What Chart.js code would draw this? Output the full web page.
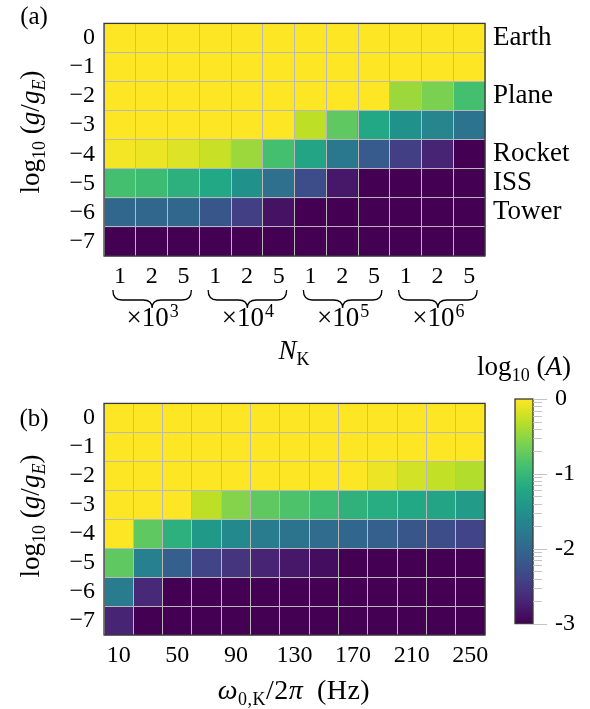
<!DOCTYPE html>
<html>
<head>
<meta charset="utf-8">
<script src="https://cdn.jsdelivr.net/npm/chart.js@4.4.1/dist/chart.umd.min.js"></script>
<style>
  body { margin: 0; background: #fff; }
  #page { position: relative; width: 590px; height: 709px; font-family: 'Liberation Serif', serif; font-size: 27px; color: #000; overflow: hidden; }
  canvas { position: absolute; }
  .lbl { position: absolute; white-space: nowrap; transform: translate(-50%, -50%); line-height: 1; }
  .rot { transform: translate(-50%, -50%) rotate(-90deg); }
  .panel { font-size: 25px; }
  .wide { font-size: 28px; letter-spacing: 0.5px; word-spacing: 6px; }
  sub { font-size: 18px; vertical-align: -6px; line-height: 0; }
</style>
</head>
<body>
<div id="page">
  <canvas id="mapA" width="590" height="380" style="left:0;top:0"></canvas>
  <canvas id="mapB" width="590" height="329" style="left:0;top:380px"></canvas>
  <canvas id="cbar" width="100" height="320" style="left:490px;top:340px"></canvas>

  <div class="lbl panel" style="left:34px;top:15px">(a)</div>
  <div class="lbl panel" style="left:34px;top:417px">(b)</div>
  <div class="lbl rot" style="left:30px;top:132px">log<sub>10</sub> (<i>g</i>/<i>g</i><sub><i>E</i></sub>)</div>
  <div class="lbl rot" style="left:30px;top:516px">log<sub>10</sub> (<i>g</i>/<i>g</i><sub><i>E</i></sub>)</div>
  <div class="lbl" style="left:294px;top:350px"><i>N</i><sub>K</sub></div>
  <div class="lbl wide" style="left:294px;top:690px"><i>ω</i><sub>0,K</sub>/2<i>π</i> (Hz)</div>
  <div class="lbl" style="left:524px;top:366px">log<sub>10</sub> (<i>A</i>)</div>
</div>

<script>
// rows: gravity level log10(g/gE), top to bottom
const gLevels = [0, -1, -2, -3, -4, -5, -6, -7];

// panel (a) columns: N_K = mantissa x 10^exp
const nkLabels = ['1', '2', '5', '1', '2', '5', '1', '2', '5', '1', '2', '5'];
const nkExponents = ['3', '4', '5', '6'];

// panel (b) columns: resonance frequency (Hz)
const freqHz = [10, 30, 50, 70, 90, 110, 130, 150, 170, 190, 210, 230, 250];

// environments marked on the right of panel (a)
const places = ['Earth', 'Plane', 'Rocket', 'ISS', 'Tower'];
const placeLevels = [0, -2, -4, -5, -6];

// log10(A), one row per gravity level
const logAmpA = [
  [0, 0, 0, 0, 0, 0, 0, 0, 0, 0, 0, 0],
  [0, 0, 0, 0, 0, 0, 0, 0, 0, 0, 0, 0],
  [0, 0, 0, 0, 0, 0, 0, 0, 0, -0.45, -0.6, -0.9],
  [0, 0, 0, 0, 0, 0, -0.3, -0.75, -1.2, -1.5, -1.65, -1.85],
  [-0.04, -0.08, -0.15, -0.25, -0.45, -0.9, -1.25, -1.8, -2.15, -2.45, -2.7, -3],
  [-0.9, -0.95, -1.1, -1.2, -1.5, -1.9, -2.3, -2.8, -3, -3, -3, -3],
  [-2.0, -2.0, -2.0, -2.2, -2.45, -2.85, -3, -3, -3, -3, -3, -3],
  [-3, -3, -3, -3, -3, -3, -3, -3, -3, -3, -3, -3]
];

const logAmpB = [
  [0, 0, 0, 0, 0, 0, 0, 0, 0, 0, 0, 0, 0],
  [0, 0, 0, 0, 0, 0, 0, 0, 0, 0, 0, 0, 0],
  [0, 0, 0, 0, 0, 0, 0, 0, 0, -0.08, -0.2, -0.28, -0.35],
  [0, 0, 0, -0.3, -0.55, -0.75, -0.85, -0.95, -1.08, -1.15, -1.2, -1.25, -1.35],
  [0, -0.75, -1.1, -1.4, -1.6, -1.75, -1.85, -1.95, -2.0, -2.1, -2.2, -2.3, -2.4],
  [-0.75, -1.7, -2.1, -2.4, -2.55, -2.7, -2.8, -2.9, -3, -3, -3, -3, -3],
  [-1.75, -2.65, -3, -3, -3, -3, -3, -3, -3, -3, -3, -3, -3],
  [-2.7, -3, -3, -3, -3, -3, -3, -3, -3, -3, -3, -3, -3]
];

// colour bar range and labelled ticks
const cbarMin = -3;
const cbarMax = 0;
const cbarMajor = [0, -1, -2, -3];

const FONT = "'Liberation Serif', serif";
const gridGray = '#b9b9b9';
const frameColor = '#3a3a3a';

// viridis colour map, 11 stops from 0 to 1
const viridis = ['#440154', '#482475', '#414487', '#355f8d', '#2a788e', '#21918c',
                 '#22a884', '#44bf70', '#7ad151', '#bddf26', '#fde725'];

function hexRgb(h) {
  return [1, 3, 5].map(i => parseInt(h.slice(i, i + 2), 16));
}

function ampColor(v) {
  let t = (v - cbarMin) / (cbarMax - cbarMin);
  t = Math.min(1, Math.max(0, t)) * (viridis.length - 1);
  const i = Math.min(viridis.length - 2, Math.floor(t));
  const f = t - i;
  const a = hexRgb(viridis[i]), b = hexRgb(viridis[i + 1]);
  const c = a.map((x, k) => Math.round(x + (b[k] - x) * f));
  return `rgb(${c[0]},${c[1]},${c[2]})`;
}

function minusLabel(v) {
  return v < 0 ? '\u2212' + Math.abs(v) : String(v);
}

Chart.defaults.font.family = FONT;
Chart.defaults.font.size = 24;
Chart.defaults.color = '#000';

// dark outline round the plot area
const framePlugin = {
  id: 'frame',
  afterDraw(chart) {
    const a = chart.chartArea;
    const ctx = chart.ctx;
    ctx.save();
    ctx.strokeStyle = frameColor;
    ctx.lineWidth = 1.3;
    ctx.strokeRect(a.left, a.top, a.right - a.left, a.bottom - a.top);
    ctx.restore();
  }
};

function levelAxis() {
  return {
    type: 'linear',
    min: -7.5,
    max: 0.5,
    afterBuildTicks: scale => {
      const t = [{ value: -7.5 }];
      gLevels.forEach(l => { t.push({ value: l }); t.push({ value: l + 0.5 }); });
      scale.ticks = t.sort((a, b) => a.value - b.value);
    },
    afterFit: scale => { scale.width = 104; },
    grid: {
      z: 1,
      drawTicks: false,
      lineWidth: 1,
      color: c => Number.isInteger(c.tick.value) ? 'rgba(0,0,0,0)' : gridGray
    },
    border: { display: false },
    ticks: {
      padding: 9,
      autoSkip: false,
      callback: v => Number.isInteger(v) ? minusLabel(v) : ''
    }
  };
}

function cellDatasets(rows) {
  return gLevels.map((lvl, r) => ({
    data: rows[r].map(() => [lvl - 0.5, lvl + 0.5]),
    backgroundColor: rows[r].map(ampColor),
    grouped: false,
    barPercentage: 1,
    categoryPercentage: 1,
    borderWidth: 0
  }));
}

// environment names, braces and decade labels for panel (a)
const nkDecor = {
  id: 'nkDecor',
  afterDraw(chart) {
    const ctx = chart.ctx;
    const xs = chart.scales.x, ys = chart.scales.y;
    const a = chart.chartArea;
    ctx.save();
    ctx.fillStyle = '#000';
    ctx.font = `27px ${FONT}`;
    ctx.textBaseline = 'middle';
    ctx.textAlign = 'left';
    places.forEach((p, i) => {
      ctx.fillText(p, a.right + 8, ys.getPixelForValue(placeLevels[i]));
    });

    ctx.strokeStyle = '#000';
    ctx.lineWidth = 1.3;
    nkExponents.forEach((e, g) => {
      const xl = xs.getPixelForValue(3 * g) - 7;
      const xr = xs.getPixelForValue(3 * g + 2) + 8;
      const xm = (xl + xr) / 2;
      const y0 = 290, ym = 300, yb = 308, r = 9;
      ctx.beginPath();
      ctx.moveTo(xl, y0);
      ctx.quadraticCurveTo(xl, ym, xl + r, ym);
      ctx.lineTo(xm - r, ym);
      ctx.quadraticCurveTo(xm, ym, xm, yb);
      ctx.quadraticCurveTo(xm, ym, xm + r, ym);
      ctx.lineTo(xr - r, ym);
      ctx.quadraticCurveTo(xr, ym, xr, y0);
      ctx.stroke();

      // "×10" with the exponent raised
      ctx.textBaseline = 'alphabetic';
      ctx.font = `27px ${FONT}`;
      const base = '\u00d710';
      const w1 = ctx.measureText(base).width;
      ctx.font = `18px ${FONT}`;
      const w2 = ctx.measureText(e).width;
      const x0 = xm - (w1 + w2) / 2;
      ctx.font = `27px ${FONT}`;
      ctx.fillText(base, x0, 326);
      ctx.font = `18px ${FONT}`;
      ctx.fillText(e, x0 + w1 + 1, 317);
    });
    ctx.restore();
  }
};

new Chart(document.getElementById('mapA'), {
  type: 'bar',
  data: { labels: nkLabels, datasets: cellDatasets(logAmpA) },
  options: {
    responsive: false,
    animation: false,
    layout: { padding: { left: 0, top: 3, right: 105, bottom: 0 } },
    plugins: { legend: { display: false }, tooltip: { enabled: false } },
    scales: {
      x: {
        type: 'category',
        offset: true,
        afterFit: s => { s.height = 124; },
        grid: { z: 1, offset: true, drawTicks: false, color: gridGray },
        border: { display: false },
        ticks: { padding: 6, autoSkip: false, maxRotation: 0 }
      },
      y: levelAxis()
    }
  },
  plugins: [framePlugin, nkDecor]
});

new Chart(document.getElementById('mapB'), {
  type: 'bar',
  data: { labels: freqHz.map(String), datasets: cellDatasets(logAmpB) },
  options: {
    responsive: false,
    animation: false,
    layout: { padding: { left: 0, top: 19, right: 105, bottom: 0 } },
    plugins: { legend: { display: false }, tooltip: { enabled: false } },
    scales: {
      x: {
        type: 'category',
        offset: true,
        afterFit: s => { s.height = 74; },
        grid: { z: 1, offset: true, drawTicks: false, color: gridGray },
        border: { display: false },
        ticks: {
          padding: 6,
          autoSkip: false,
          maxRotation: 0,
          callback: (v, i) => i % 2 === 0 ? String(freqHz[i]) : ''
        }
      },
      y: levelAxis()
    }
  },
  plugins: [framePlugin]
});

// colour bar: one bar spanning the range, filled with the map
const cbarTicks = [];
cbarMajor.forEach(m => {
  cbarTicks.push({ value: m, major: true });
  if (m > cbarMin) {
    for (let k = 2; k <= 9; k++) {
      cbarTicks.push({ value: m - 1 + Math.log10(k), major: false });
    }
  }
});

const cbarTickMarks = {
  id: 'cbarTickMarks',
  afterDraw(chart) {
    const ys = chart.scales.y;
    const a = chart.chartArea;
    const ctx = chart.ctx;
    ctx.save();
    ctx.strokeStyle = '#c4c4c4';
    ctx.lineWidth = 1;
    cbarTicks.forEach(t => {
      const y = Math.round(ys.getPixelForValue(t.value)) + 0.5;
      ctx.beginPath();
      ctx.moveTo(a.right, y);
      ctx.lineTo(a.right + (t.major ? 14 : 9), y);
      ctx.stroke();
    });
    ctx.restore();
  }
};

new Chart(document.getElementById('cbar'), {
  type: 'bar',
  data: {
    labels: [''],
    datasets: [{
      data: [[cbarMin, cbarMax]],
      backgroundColor: c => {
        const a = c.chart.chartArea;
        if (!a) return viridis[5];
        const g = c.chart.ctx.createLinearGradient(0, a.bottom, 0, a.top);
        viridis.forEach((col, i) => g.addColorStop(i / (viridis.length - 1), col));
        return g;
      },
      barPercentage: 1,
      categoryPercentage: 1,
      borderWidth: 0
    }]
  },
  options: {
    responsive: false,
    animation: false,
    layout: { padding: { left: 25, top: 59, right: 0, bottom: 25 } },
    plugins: { legend: { display: false }, tooltip: { enabled: false } },
    scales: {
      x: { display: false },
      y: {
        position: 'right',
        min: cbarMin,
        max: cbarMax,
        afterBuildTicks: s => { s.ticks = cbarMajor.map(v => ({ value: v })); },
        afterFit: s => { s.width = 57; },
        grid: { display: false, drawTicks: false },
        border: { display: false },
        ticks: { padding: 22, autoSkip: false, callback: v => String(v) }
      }
    }
  },
  plugins: [framePlugin, cbarTickMarks]
});
</script>
</body>
</html>
